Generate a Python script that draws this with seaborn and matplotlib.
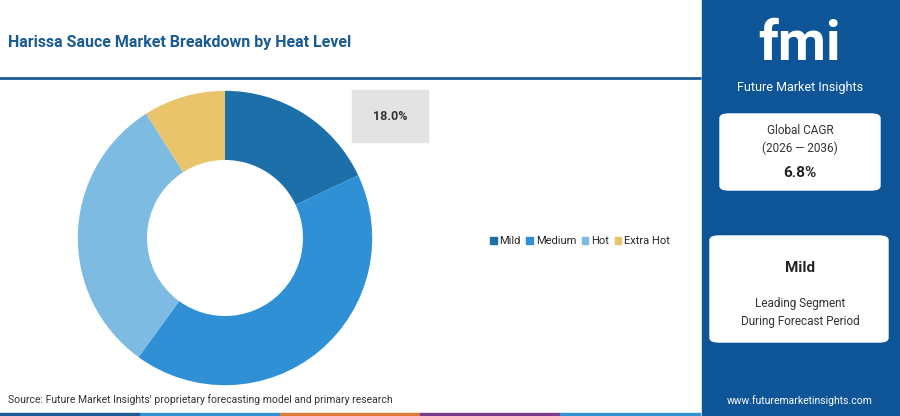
import matplotlib
matplotlib.use("Agg")
import matplotlib.pyplot as plt
import seaborn as sns
from matplotlib.patches import Rectangle, FancyBboxPatch

sns.set_style("white")
plt.rcParams['font.family'] = ['Roboto', 'DejaVu Sans']

segments = ["Mild", "Medium", "Hot", "Extra Hot"]
shares = [18.0, 42.0, 31.0, 9.0]
colors = ["#1d6fa9", "#2f90d5", "#7dbbe2", "#e9c46a"]

fig = plt.figure(figsize=(9, 4.16), dpi=100)
W, H = 900, 416

def fx(x):
    return x / W

def fy(y):
    return 1 - y / H

# title and separator
fig.text(fx(8), fy(42), "Harissa Sauce Market Breakdown by Heat Level",
         fontsize=11.5, fontweight="bold", color="#1a5b93", va="center")
fig.add_artist(plt.Line2D([0, fx(700)], [fy(78), fy(78)], color="#1a5b93", lw=2))

# donut (centre ~ (225, 238), outer radius ~147 px)
ax = fig.add_axes([fx(225 - 184), fy(238 + 184), fx(368), 368 / H])
ax.pie(shares, colors=colors, startangle=90, counterclock=False,
       wedgeprops=dict(width=0.47, edgecolor="none"))
ax.set_aspect("equal")

# value callout
fig.add_artist(Rectangle((fx(352), fy(142)), fx(76), 52 / H, color="#e3e3e3"))
fig.text(fx(390), fy(117), "18.0%", fontsize=9, fontweight="bold", ha="center", va="center", color="#333")

# legend
handles = [Rectangle((0, 0), 1, 1, color=c) for c in colors]
fig.legend(handles, segments, loc="center left", bbox_to_anchor=(fx(490), fy(241)),
           ncol=4, frameon=False, fontsize=8, handlelength=0.6, handleheight=0.6,
           handletextpad=0.25, columnspacing=0.5, borderpad=0, borderaxespad=0)

# source
fig.text(fx(8), fy(400), "Source: Future Market Insights' proprietary forecasting model and primary research",
         fontsize=7.5, color="#333", va="center")
stripe = ["#1a5b93", "#2f90d5", "#e07b39", "#7a3b8f", "#2f90d5"]
for i, c in enumerate(stripe):
    fig.add_artist(Rectangle((fx(i * 140), 0), fx(140), 3 / H, color=c))

# right panel
fig.add_artist(Rectangle((fx(702), 0), fx(198), 1, color="#0d5597"))
fig.text(fx(800), fy(45), "fmi", fontsize=40, fontweight="bold", color="white", ha="center", va="center")
fig.text(fx(800), fy(87), "Future Market Insights", fontsize=9, color="white", ha="center", va="center")
fig.add_artist(FancyBboxPatch((fx(720), fy(190)), fx(160), 76 / H,
                              boxstyle="round,pad=0,rounding_size=0.01", color="white"))
fig.text(fx(800), fy(130), "Global CAGR", fontsize=8.5, ha="center", va="center", color="#333")
fig.text(fx(800), fy(148), "(2026 — 2036)", fontsize=8.5, ha="center", va="center", color="#333")
fig.text(fx(800), fy(173), "6.8%", fontsize=11, fontweight="bold", ha="center", va="center", color="#222")
fig.add_artist(FancyBboxPatch((fx(710), fy(342)), fx(178), 106 / H,
                              boxstyle="round,pad=0,rounding_size=0.01", color="white"))
fig.text(fx(800), fy(268), "Mild", fontsize=11, fontweight="bold", ha="center", va="center", color="#222")
fig.text(fx(800), fy(304), "Leading Segment", fontsize=8.5, ha="center", va="center", color="#333")
fig.text(fx(800), fy(322), "During Forecast Period", fontsize=8.5, ha="center", va="center", color="#333")
fig.text(fx(800), fy(401), "www.futuremarketinsights.com", fontsize=7.5, ha="center", va="center", color="white")

fig.savefig("out.png", dpi=100)
